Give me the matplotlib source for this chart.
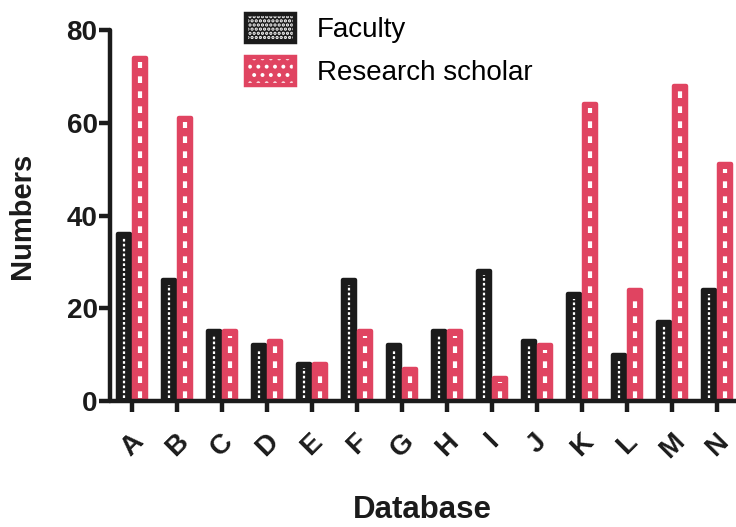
import matplotlib
matplotlib.use("Agg")
import matplotlib.pyplot as plt
import numpy as np
from matplotlib.patches import Patch
from matplotlib.legend_handler import HandlerTuple

# data
databases = ["A", "B", "C", "D", "E", "F", "G", "H", "I", "J", "K", "L", "M", "N"]
faculty = [36, 26, 15, 12, 8, 26, 12, 15, 28, 13, 23, 10, 17, 24]
scholar = [74, 61, 15, 13, 8, 15, 7, 15, 5, 12, 64, 24, 68, 51]

BLACK = "#1b1b1b"
RED = "#e04461"

plt.rcParams["font.family"] = ["Liberation Sans", "DejaVu Sans"]
plt.rcParams["hatch.linewidth"] = 1.6

fig = plt.figure(figsize=(7.36, 5.27), dpi=100)
ax = fig.add_axes([110 / 736, 1 - 401 / 527, 1 - 110 / 736, (401 - 30) / 527])

x = np.arange(len(databases))
w = 0.27
off = 0.18
LW = 3.2


def patterned_bars(xpos, vals, color, stripe_lw, dashes):
    # solid bar with thick rounded outline, then a white dashed stripe down the middle
    ax.bar(xpos, vals, w, color=color, edgecolor=color, linewidth=LW,
           joinstyle="round", zorder=2)
    vals = np.asarray(vals, dtype=float)
    ax.vlines(xpos, 0.6, vals - 0.9, colors="white", linewidth=stripe_lw,
              linestyles=[(0, dashes)], zorder=3)


patterned_bars(x - off, faculty, BLACK, 1.6, (1.2, 1.0))
patterned_bars(x + off, scholar, RED, 3.0, (1.6, 2.0))

ax.set_xlim(-0.49, 13.42)
ax.set_ylim(0, 80)
ax.set_yticks([0, 20, 40, 60, 80])
ax.set_xticks(x)
ax.set_xticklabels(databases, rotation=45, ha="center", va="top")

for s in ["top", "right"]:
    ax.spines[s].set_visible(False)
for s in ["left", "bottom"]:
    ax.spines[s].set_linewidth(LW)
    ax.spines[s].set_color(BLACK)
    ax.spines[s].set_capstyle("round")

ax.tick_params(axis="both", direction="out", length=8, width=LW, color=BLACK,
               labelsize=20)
ax.tick_params(axis="y", pad=1)
ax.tick_params(axis="x", pad=12)
for lab in ax.get_xticklabels() + ax.get_yticklabels():
    lab.set_fontweight("bold")
    lab.set_color(BLACK)

ax.set_ylabel("Numbers", fontsize=21, fontweight="bold", color=BLACK)
ax.yaxis.set_label_coords(-0.118, 0.5)
fig.text(422 / 736, 2 / 527, "Database", fontsize=22.5, fontweight="bold",
         color=BLACK, ha="center", va="bottom")

fac_handle = (Patch(facecolor=BLACK, edgecolor="white", hatch="....", linewidth=0),
              Patch(fill=False, edgecolor=BLACK, linewidth=LW, joinstyle="round"))
sch_handle = (Patch(facecolor=RED, edgecolor="white", hatch="..", linewidth=0),
              Patch(fill=False, edgecolor=RED, linewidth=LW, joinstyle="round"))
fig.legend(handles=[fac_handle, sch_handle], labels=["Faculty", "Research scholar"],
           handler_map={tuple: HandlerTuple(ndivide=1)},
           loc="upper left", bbox_to_anchor=(246 / 736, 1 - 14 / 527),
           frameon=False, fontsize=20, handlelength=1.75, handleheight=1.15,
           labelspacing=0.5, handletextpad=0.8, borderpad=0, borderaxespad=0)

fig.savefig("out.png", dpi=100)
